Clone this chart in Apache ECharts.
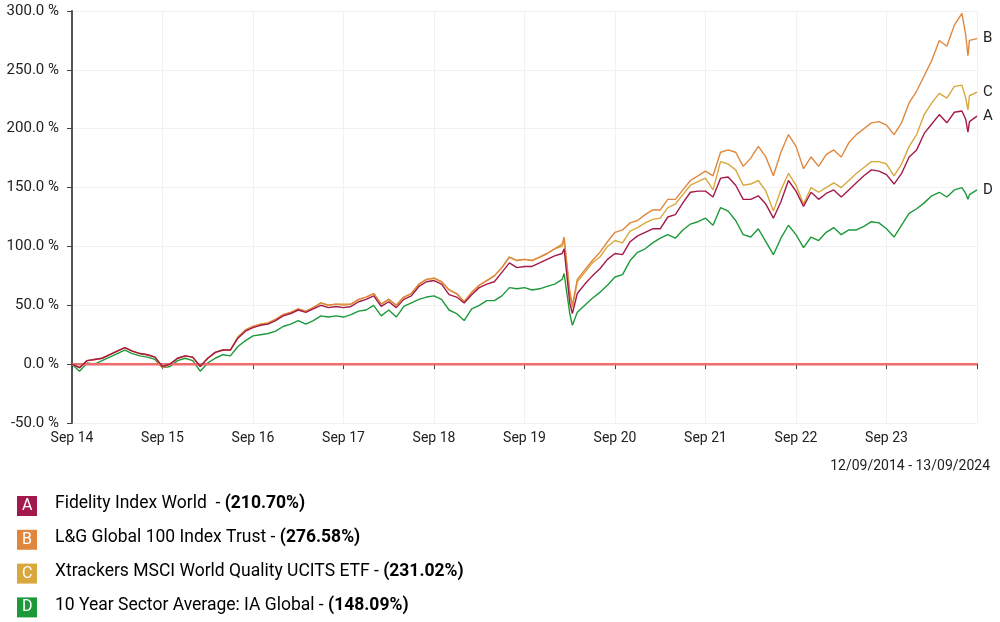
<!DOCTYPE html>
<html>
<head>
<meta charset="utf-8">
<script src="https://cdn.jsdelivr.net/npm/echarts@6/dist/echarts.min.js"></script>
<style>
    html, body { margin: 0; padding: 0; background: #fff; }
    #chartMain { width: 1000px; height: 622px; }
</style>
</head>
<body>
<div id="chartMain"></div>
<script>
// months since 12/09/2014 (a few extra points at sharp moves)
const months = [
    0, 1, 2, 3, 4, 5, 6, 7, 8, 9, 10, 11, 12,
    13, 14, 15, 16, 17, 18, 19, 20, 21, 22, 23, 24,
    25, 26, 27, 28, 29, 30, 31, 32, 33, 34, 35, 36,
    37, 38, 39, 40, 41, 42, 43, 44, 45, 46, 47, 48,
    49, 50, 51, 52, 53, 54, 55, 56, 57, 58, 59, 60,
    61, 62, 63, 64, 65, 65.25, 66, 66.35, 67, 68, 69, 70, 71, 72,
    73, 74, 75, 76, 77, 78, 79, 80, 81, 82, 83, 84,
    85, 86, 87, 88, 89, 90, 91, 92, 93, 94, 95, 96,
    97, 98, 99, 100, 101, 102, 103, 104, 105, 106, 107, 108,
    109, 110, 111, 112, 113, 114, 115, 116, 117, 118, 118.5, 118.8, 119, 120
]
const tickLabels = ['Sep 14', 'Sep 15', 'Sep 16', 'Sep 17', 'Sep 18', 'Sep 19', 'Sep 20', 'Sep 21', 'Sep 22', 'Sep 23']

const fidelity = [
    0, -3, 3, 4, 5, 8, 11, 14, 11, 9, 8, 6, -2,
    0, 5, 7, 6, -2, 5, 10, 12, 12, 22, 28, 31,
    33, 34, 37, 41, 43, 46, 44, 47, 50, 48, 49, 48,
    49, 53, 55, 58, 49, 53, 48, 55, 58, 66, 70, 71,
    68, 59, 57, 52, 59, 65, 68, 70, 78, 86, 82, 83,
    83, 86, 89, 92, 94, 98, 52, 43, 60, 68, 75, 81, 89, 94,
    93, 104, 109, 112, 115, 115, 125, 127, 137, 146, 147, 147,
    142, 158, 159, 152, 140, 140, 143, 136, 124, 138, 156, 147,
    134, 146, 140, 145, 148, 142, 148, 154, 160, 165, 164, 161,
    153, 162, 176, 182, 196, 204, 212, 205, 214, 215, 208, 197, 206, 210.70
]
const lgGlobal = [
    0, -3, 3, 4, 5, 8, 11, 14, 11, 9, 8, 6, -3,
    0, 5, 7, 6, -2, 5, 10, 12, 12, 23, 29, 32,
    34, 35, 38, 42, 44, 47, 45, 48, 52, 50, 51, 51,
    51, 55, 57, 60, 51, 55, 50, 57, 60, 68, 72, 73,
    70, 63, 60, 53, 61, 67, 71, 75, 82, 91, 88, 89,
    88, 91, 94, 98, 102, 108, 62, 50, 72, 80, 88, 95, 104, 112,
    114, 120, 122, 127, 131, 131, 140, 140, 148, 156, 160, 164,
    160, 180, 182, 180, 168, 175, 185, 176, 160, 180, 195, 185,
    166, 176, 168, 178, 182, 176, 188, 195, 200, 205, 206, 203,
    195, 205, 222, 232, 245, 258, 275, 270, 288, 298, 280, 262, 275, 276.58
]
const xtrackers = [
    0, -3, 3, 4, 5, 8, 11, 14, 11, 9, 8, 6, -3,
    0, 5, 7, 6, -2, 5, 10, 12, 12, 23, 29, 32,
    34, 35, 38, 42, 44, 47, 45, 48, 52, 50, 51, 50,
    51, 55, 57, 60, 51, 55, 50, 57, 60, 68, 72, 73,
    70, 63, 60, 53, 61, 67, 71, 75, 82, 91, 88, 89,
    88, 91, 94, 98, 100, 106, 60, 48, 70, 78, 86, 91, 100, 105,
    103, 113, 116, 120, 123, 124, 133, 136, 144, 152, 155, 158,
    148, 172, 170, 165, 152, 153, 156, 147, 130, 148, 162, 152,
    136, 150, 146, 150, 154, 150, 156, 162, 167, 172, 172, 170,
    160, 170, 185, 195, 212, 222, 230, 226, 236, 237, 226, 216, 228, 231.02
]
const sectorAvg = [
    0, -6, 1, 0, 3, 6, 9, 12, 9, 7, 6, 4, -3,
    -2, 3, 5, 3, -6, 1, 5, 8, 7, 15, 20, 24,
    25, 26, 28, 32, 34, 37, 34, 37, 41, 40, 41, 40,
    42, 45, 46, 50, 41, 46, 40, 49, 52, 55, 57, 58,
    55, 46, 43, 37, 47, 50, 54, 54, 58, 65, 64, 65,
    63, 64, 66, 68, 72, 77, 43, 33, 44, 50, 56, 61, 67, 74,
    76, 88, 95, 98, 103, 107, 110, 107, 114, 119, 121, 124,
    118, 133, 130, 122, 110, 108, 115, 104, 93, 107, 118, 110,
    99, 108, 105, 112, 116, 110, 114, 114, 117, 121, 120, 115,
    108, 118, 128, 132, 137, 143, 146, 142, 148, 150, 145, 140, 144, 148.09
]

const seriesNames = ['Fidelity Index World ', 'L&G Global 100 Index Trust', 'Xtrackers MSCI World Quality UCITS ETF', '10 Year Sector Average: IA Global']
const seriesLetters = ['A', 'B', 'C', 'D']
const seriesTotals = ['210.70%', '276.58%', '231.02%', '148.09%']
const seriesValues = [fidelity, lgGlobal, xtrackers, sectorAvg]
const colorList = ['#a3194b', '#e0873d', '#d8a83c', '#1c9a3a']

const chart = echarts.init(document.getElementById('chartMain'))
const fontFamily = 'Roboto, Arial, sans-serif'

const lineSeries = seriesValues.map((vals, i) => ({
    name: seriesNames[i],
    type: 'line',
    data: vals.map((v, k) => [months[k], v]),
    showSymbol: false,
    symbol: 'none',
    lineStyle: { color: colorList[i], width: 1.4 },
    itemStyle: { color: colorList[i] },
    z: 4 - i,
    endLabel: {
        show: true,
        formatter: seriesLetters[i],
        color: '#222',
        fontSize: 15,
        fontFamily: fontFamily,
        distance: 6,
    },
}))

// 0 % reference line
lineSeries.push({
    type: 'line',
    data: [[0, 0], [120, 0]],
    showSymbol: false,
    symbol: 'none',
    lineStyle: { color: '#f06b6b', width: 2.5 },
    z: 1,
})

const legendGraphics = []
seriesNames.forEach((name, i) => {
    const cy = 506 + i * 33.8
    legendGraphics.push({
        type: 'rect',
        left: 17,
        top: cy - 10,
        shape: { width: 20, height: 20 },
        style: { fill: colorList[i] },
    })
    legendGraphics.push({
        type: 'text',
        left: 22,
        top: cy - 8,
        style: { text: seriesLetters[i], fill: '#fff', font: '16px ' + fontFamily },
    })
    legendGraphics.push({
        type: 'text',
        left: 55,
        top: cy - 11,
        style: {
            text: '{n|' + name + ' - }{b|(' + seriesTotals[i] + ')}',
            rich: {
                n: { fontSize: 17.5, fontFamily: fontFamily, color: '#222' },
                b: { fontSize: 17.5, fontFamily: fontFamily, fontWeight: 'bold', color: '#111' },
            },
        },
    })
})
legendGraphics.push({
    type: 'text',
    right: 10,
    top: 459,
    style: { text: '12/09/2014 - 13/09/2024', fill: '#222', font: '14px ' + fontFamily },
})

const option = {
    animation: false,
    grid: { left: 72, right: 23, top: 11, bottom: 199, containLabel: false },
    xAxis: {
        type: 'value',
        min: 0,
        max: 120,
        interval: 12,
        axisLine: { show: true, lineStyle: { color: '#444', width: 1.5 } },
        axisTick: { show: true, length: 5, lineStyle: { color: '#444' } },
        splitLine: { show: true, lineStyle: { color: '#f1f1f1' } },
        axisLabel: {
            color: '#222',
            fontSize: 14,
            fontFamily: fontFamily,
            margin: 8,
            formatter: (v) => tickLabels[v / 12] || '',
        },
    },
    yAxis: {
        type: 'value',
        min: -50,
        max: 300,
        interval: 50,
        axisLine: { show: true, lineStyle: { color: '#555', width: 2 } },
        axisTick: { show: true, length: 5, lineStyle: { color: '#444' } },
        splitLine: { show: true, lineStyle: { color: '#f1f1f1' } },
        axisLabel: {
            color: '#222',
            fontSize: 15,
            fontFamily: fontFamily,
            margin: 13,
            formatter: (v) => v.toFixed(1) + ' %',
        },
    },
    graphic: legendGraphics,
    series: lineSeries,
}
option && chart.setOption(option)
</script>
</body>
</html>
